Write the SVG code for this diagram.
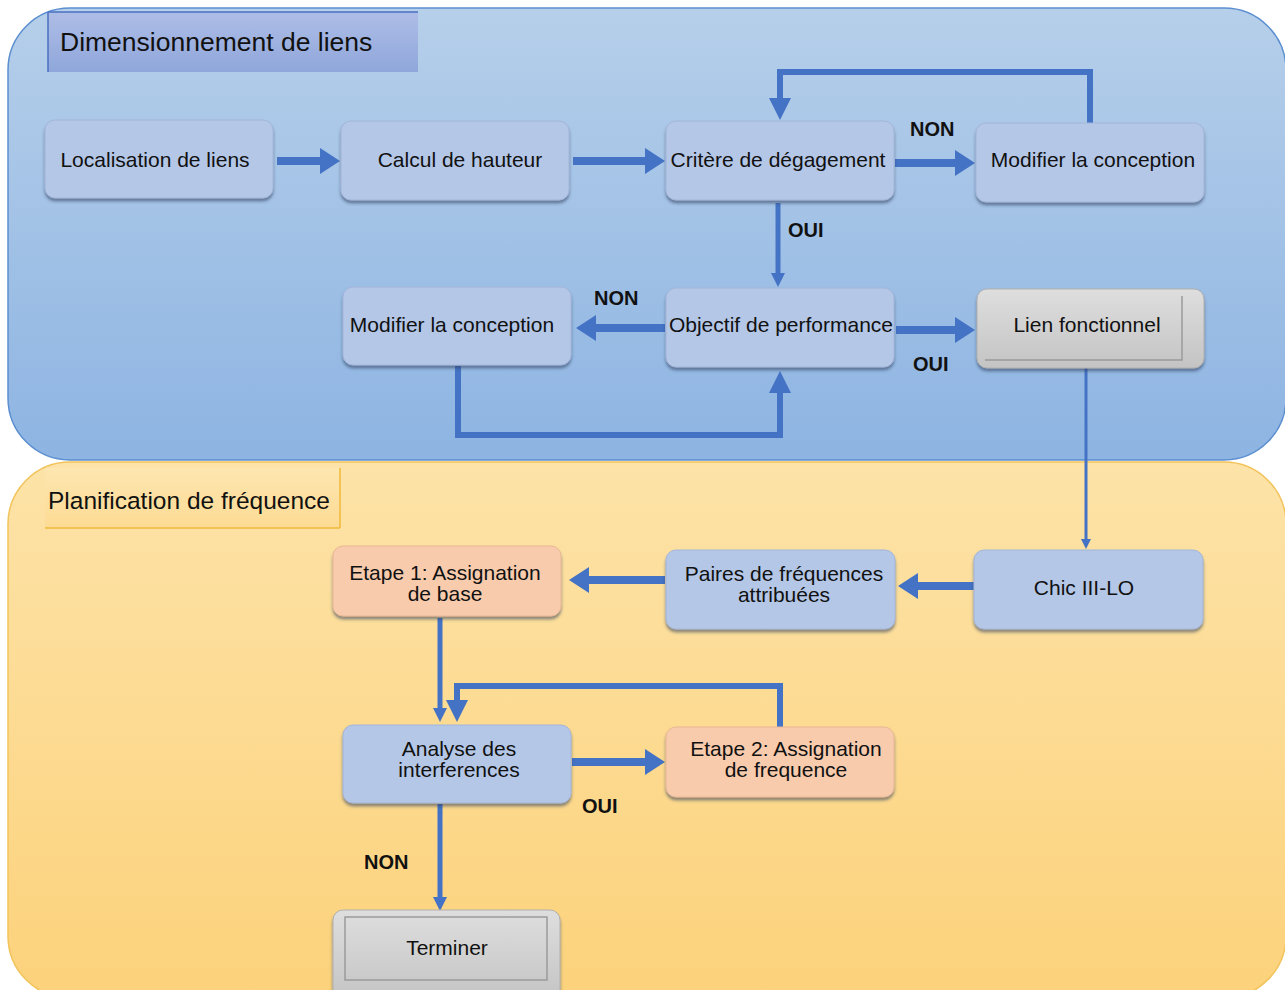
<svg xmlns="http://www.w3.org/2000/svg" width="1285" height="990" viewBox="0 0 1285 990">
  <defs>
    <linearGradient id="gTop" x1="0" y1="0" x2="0" y2="1">
      <stop offset="0" stop-color="#b6cfea"/>
      <stop offset="1" stop-color="#8db4e2"/>
    </linearGradient>
    <linearGradient id="gBot" x1="0" y1="0" x2="0" y2="1">
      <stop offset="0" stop-color="#fde3a8"/>
      <stop offset="1" stop-color="#fcd27b"/>
    </linearGradient>
    <linearGradient id="gTitle1" x1="0" y1="0" x2="0" y2="1">
      <stop offset="0" stop-color="#aebde6"/>
      <stop offset="1" stop-color="#8fa7db"/>
    </linearGradient>
    <linearGradient id="gTitle2" x1="0" y1="0" x2="0" y2="1">
      <stop offset="0" stop-color="#fde6b0"/>
      <stop offset="1" stop-color="#fddb94"/>
    </linearGradient>
    <linearGradient id="gGray" x1="0" y1="0" x2="0" y2="1">
      <stop offset="0" stop-color="#dedede"/>
      <stop offset="1" stop-color="#c4c4c4"/>
    </linearGradient>
    <filter id="shadow" x="-10%" y="-10%" width="120%" height="130%">
      <feDropShadow dx="0" dy="3" stdDeviation="1.5" flood-color="#2f3f5f" flood-opacity="0.55"/>
    </filter>
    <marker id="bigHead" markerUnits="userSpaceOnUse" viewBox="0 -14 20 28" markerWidth="20" markerHeight="28" refX="0" refY="0" orient="auto">
      <path d="M0,-13 L20,0 L0,13 z" fill="#4472c4"/>
    </marker>
    <marker id="midHead" markerUnits="userSpaceOnUse" viewBox="0 -12 22 24" markerWidth="22" markerHeight="24" refX="0" refY="0" orient="auto">
      <path d="M0,-11 L22,0 L0,11 z" fill="#4472c4"/>
    </marker>
    <marker id="smallHead" markerUnits="userSpaceOnUse" viewBox="0 -8 14 16" markerWidth="14" markerHeight="16" refX="0" refY="0" orient="auto">
      <path d="M0,-7 L14,0 L0,7 z" fill="#4472c4"/>
    </marker>
    <marker id="tinyHead" markerUnits="userSpaceOnUse" viewBox="0 -6 10 12" markerWidth="10" markerHeight="12" refX="0" refY="0" orient="auto">
      <path d="M0,-5 L10,0 L0,5 z" fill="#4472c4"/>
    </marker>
  </defs>
  <style>
    .txt { font-family: "Liberation Sans", Arial, sans-serif; font-size: 21px; fill: #111; text-anchor: middle; }
    .title1 { font-family: "Liberation Sans", Arial, sans-serif; font-size: 26.5px; fill: #111; }
    .title2 { font-family: "Liberation Sans", Arial, sans-serif; font-size: 24.5px; fill: #111; }
    .lbl { font-family: "Liberation Sans", Arial, sans-serif; font-size: 20px; font-weight: bold; fill: #111; }
    .blue { fill: #b4c7e7; stroke: #a3b6da; stroke-width: 1; filter: url(#shadow); }
    .peach { fill: #f8cbad; stroke: #e8b896; stroke-width: 1; filter: url(#shadow); }
    .gray { fill: url(#gGray); stroke: #b0b0b0; stroke-width: 1; filter: url(#shadow); }
    .frame { fill: none; stroke: #9a9a9a; stroke-width: 1.5; }
    .conn { fill: none; stroke: #4472c4; stroke-linejoin: miter; }
  </style>

  <!-- Swimlane panels -->
  <g id="panel-dimensionnement">
    <rect x="8" y="8" width="1278" height="452" rx="62" ry="62" fill="url(#gTop)" stroke="#5b8fd0" stroke-width="1.5"/>
    <rect x="48" y="12" width="370" height="60" fill="url(#gTitle1)"/>
    <line x1="48" y1="12" x2="418" y2="12" stroke="#4a6fc0" stroke-width="1.5"/>
    <line x1="48" y1="12" x2="48" y2="72" stroke="#4a6fc0" stroke-width="1.5"/>
    <text class="title1" x="60" y="51">Dimensionnement de liens</text>
  </g>
  <g id="panel-planification">
    <rect x="8" y="462" width="1278" height="536" rx="62" ry="62" fill="url(#gBot)" stroke="#f2c35a" stroke-width="1.5"/>
    <rect x="45" y="468" width="295" height="60" fill="url(#gTitle2)"/>
    <line x1="45" y1="528" x2="340" y2="528" stroke="#f0b93a" stroke-width="1.5"/>
    <line x1="340" y1="468" x2="340" y2="528" stroke="#f0b93a" stroke-width="1.5"/>
    <text class="title2" x="48" y="509">Planification de fréquence</text>
  </g>

  <!-- Connectors -->
  <g id="connectors">
    <line class="conn" x1="277" y1="161" x2="320" y2="161" stroke-width="8" marker-end="url(#bigHead)"/>
    <line class="conn" x1="573" y1="161" x2="645" y2="161" stroke-width="8" marker-end="url(#bigHead)"/>
    <line class="conn" x1="895" y1="163" x2="955" y2="163" stroke-width="8" marker-end="url(#bigHead)"/>
    <polyline class="conn" points="1090,123 1090,72 780,72 780,98" stroke-width="6" marker-end="url(#midHead)"/>
    <line class="conn" x1="778" y1="203" x2="778" y2="273" stroke-width="5" marker-end="url(#smallHead)"/>
    <line class="conn" x1="665" y1="328" x2="596" y2="328" stroke-width="8" marker-end="url(#bigHead)"/>
    <line class="conn" x1="896" y1="330" x2="955" y2="330" stroke-width="8" marker-end="url(#bigHead)"/>
    <polyline class="conn" points="458,366 458,435 780,435 780,393" stroke-width="6" marker-end="url(#midHead)"/>
    <line class="conn" x1="1086" y1="365" x2="1086" y2="539" stroke-width="3" marker-end="url(#tinyHead)"/>
    <line class="conn" x1="975" y1="586" x2="918" y2="586" stroke-width="8" marker-end="url(#bigHead)"/>
    <line class="conn" x1="665" y1="580" x2="589" y2="580" stroke-width="8" marker-end="url(#bigHead)"/>
    <line class="conn" x1="440" y1="618" x2="440" y2="708" stroke-width="5" marker-end="url(#smallHead)"/>
    <polyline class="conn" points="780,727 780,686 457,686 457,700" stroke-width="6" marker-end="url(#midHead)"/>
    <line class="conn" x1="572" y1="762" x2="645" y2="762" stroke-width="8" marker-end="url(#bigHead)"/>
    <line class="conn" x1="440" y1="804" x2="440" y2="897" stroke-width="5" marker-end="url(#smallHead)"/>
    <text class="lbl" x="910" y="136">NON</text>
    <text class="lbl" x="788" y="237">OUI</text>
    <text class="lbl" x="594" y="305">NON</text>
    <text class="lbl" x="913" y="371">OUI</text>
    <text class="lbl" x="582" y="813">OUI</text>
    <text class="lbl" x="364" y="869">NON</text>
  </g>

  <!-- Nodes -->
  <g id="node-localisation">
    <rect class="blue" x="45" y="120" width="228" height="78" rx="10"/>
    <text class="txt" x="155" y="167">Localisation de liens</text>
  </g>
  <g id="node-calcul">
    <rect class="blue" x="341" y="121" width="228" height="79" rx="10"/>
    <text class="txt" x="460" y="167">Calcul de hauteur</text>
  </g>
  <g id="node-critere">
    <rect class="blue" x="666" y="121" width="228" height="79" rx="10"/>
    <text class="txt" x="778" y="167">Critère de dégagement</text>
  </g>
  <g id="node-modifier-1">
    <rect class="blue" x="976" y="123" width="228" height="79" rx="10"/>
    <text class="txt" x="1093" y="167">Modifier la conception</text>
  </g>
  <g id="node-modifier-2">
    <rect class="blue" x="343" y="287" width="228" height="78" rx="10"/>
    <text class="txt" x="452" y="332">Modifier la conception</text>
  </g>
  <g id="node-objectif">
    <rect class="blue" x="666" y="288" width="228" height="79" rx="10"/>
    <text class="txt" x="781" y="332">Objectif de performance</text>
  </g>
  <g id="node-lien">
    <rect class="gray" x="977" y="289" width="227" height="79" rx="10"/>
    <polyline class="frame" points="1182,296 1182,360 985,360"/>
    <text class="txt" x="1087" y="332">Lien fonctionnel</text>
  </g>
  <g id="node-etape1">
    <rect class="peach" x="333" y="546" width="228" height="70" rx="10"/>
    <text class="txt" x="445" y="580">Etape 1: Assignation</text>
    <text class="txt" x="445" y="601">de base</text>
  </g>
  <g id="node-paires">
    <rect class="blue" x="666" y="550" width="229" height="79" rx="10"/>
    <text class="txt" x="784" y="581">Paires de fréquences</text>
    <text class="txt" x="784" y="602">attribuées</text>
  </g>
  <g id="node-chic">
    <rect class="blue" x="974" y="550" width="229" height="79" rx="10"/>
    <text class="txt" x="1084" y="595">Chic III-LO</text>
  </g>
  <g id="node-analyse">
    <rect class="blue" x="343" y="725" width="228" height="78" rx="10"/>
    <text class="txt" x="459" y="756">Analyse des</text>
    <text class="txt" x="459" y="777">interferences</text>
  </g>
  <g id="node-etape2">
    <rect class="peach" x="666" y="727" width="228" height="70" rx="10"/>
    <text class="txt" x="786" y="756">Etape 2: Assignation</text>
    <text class="txt" x="786" y="777">de frequence</text>
  </g>
  <g id="node-terminer">
    <rect class="gray" x="333" y="910" width="227" height="90" rx="10"/>
    <rect class="frame" x="345" y="917" width="202" height="63"/>
    <text class="txt" x="447" y="955">Terminer</text>
  </g>
</svg>
